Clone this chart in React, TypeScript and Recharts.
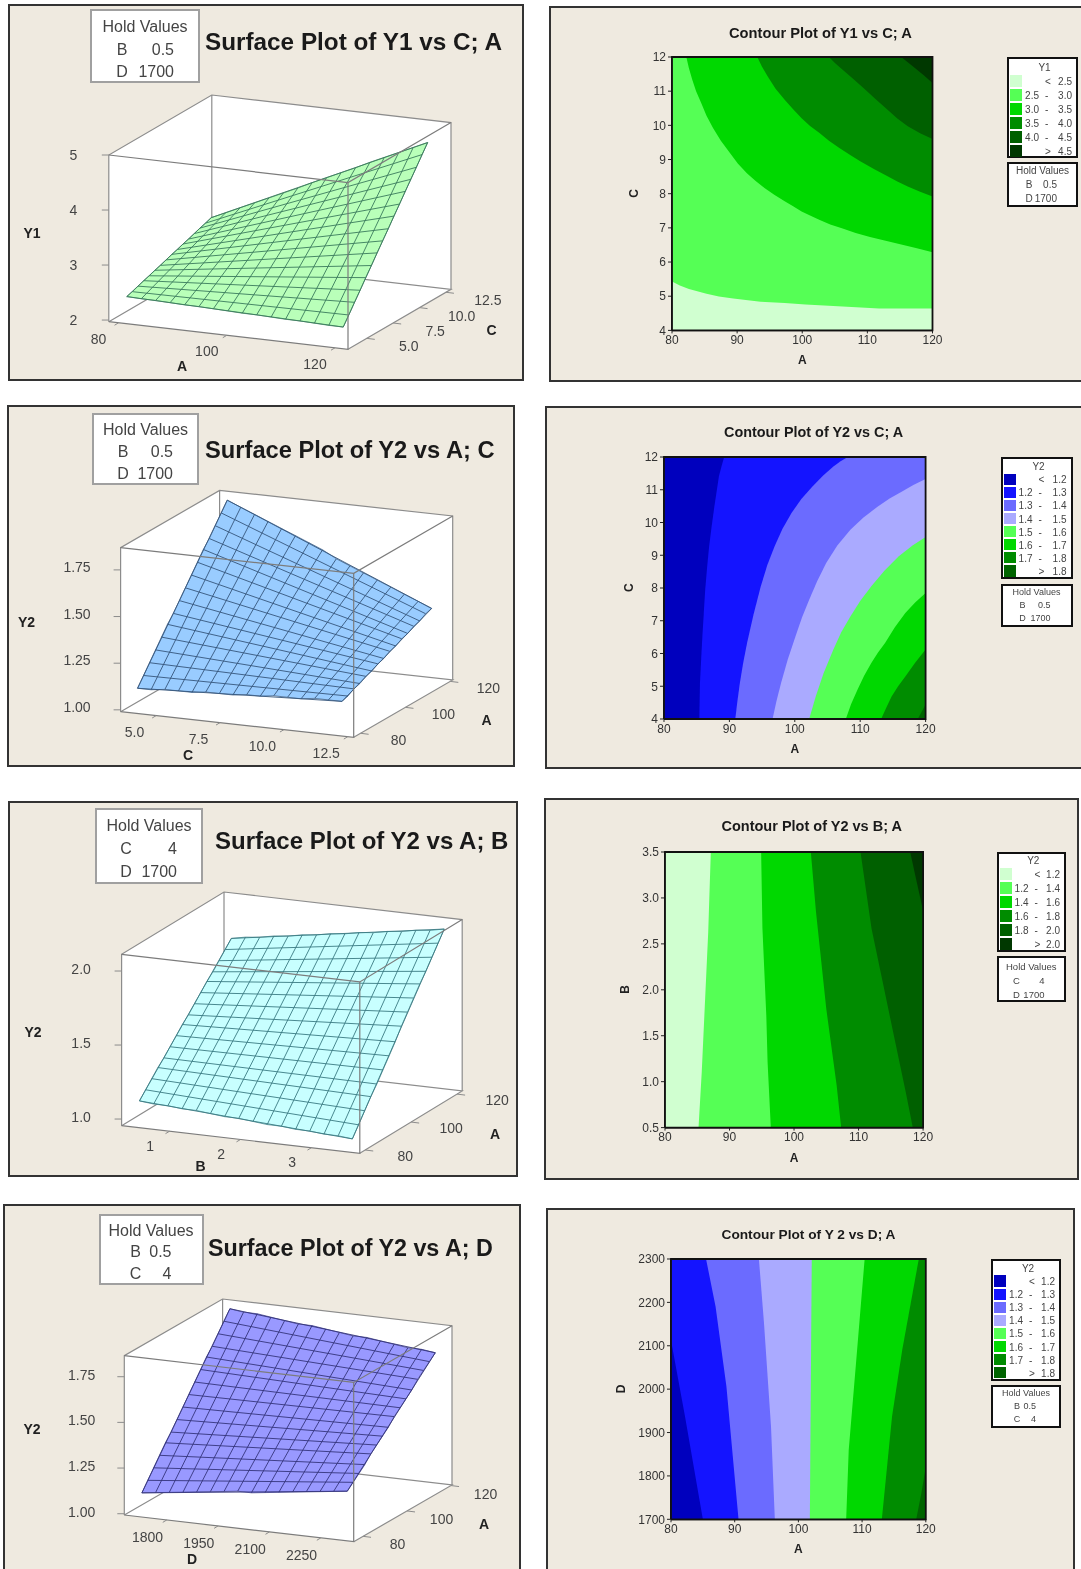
import React from 'react'
import { Scatter, ScatterChart, XAxis, YAxis } from 'recharts'

// grid steps along the surface plots
const stepsA = [80, 82.67, 85.33, 88, 90.67, 93.33, 96, 98.67, 101.33, 104, 106.67, 109.33, 112, 114.67, 117.33, 120]
const stepsC = [4, 4.53, 5.07, 5.6, 6.13, 6.67, 7.2, 7.73, 8.27, 8.8, 9.33, 9.87, 10.4, 10.93, 11.47, 12]
const stepsB = [0.5, 0.7, 0.9, 1.1, 1.3, 1.5, 1.7, 1.9, 2.1, 2.3, 2.5, 2.7, 2.9, 3.1, 3.3, 3.5]
const stepsD = [1700, 1740, 1780, 1820, 1860, 1900, 1940, 1980, 2020, 2060, 2100, 2140, 2180, 2220, 2260, 2300]

// surface edge heights: front and back run along the front axis, left and right along the depth axis
const y1Front = [2.36, 2.35, 2.35, 2.34, 2.33, 2.33, 2.32, 2.31, 2.30, 2.30, 2.29, 2.28, 2.28, 2.27, 2.26, 2.26]
const y1Back = [2.90, 3.02, 3.14, 3.26, 3.38, 3.50, 3.62, 3.75, 3.87, 3.99, 4.11, 4.24, 4.36, 4.48, 4.60, 4.72]
const y1Left = [2.36, 2.39, 2.43, 2.47, 2.50, 2.54, 2.57, 2.61, 2.65, 2.68, 2.72, 2.75, 2.79, 2.83, 2.86, 2.90]
const y1Right = [2.26, 2.42, 2.59, 2.75, 2.92, 3.08, 3.25, 3.41, 3.57, 3.74, 3.90, 4.07, 4.23, 4.39, 4.56, 4.72]

const y2cFront = [1.10, 1.10, 1.11, 1.11, 1.11, 1.12, 1.12, 1.12, 1.13, 1.13, 1.14, 1.14, 1.14, 1.15, 1.15, 1.15]
const y2cBack = [1.83, 1.80, 1.77, 1.74, 1.71, 1.68, 1.65, 1.62, 1.58, 1.55, 1.52, 1.49, 1.46, 1.43, 1.40, 1.37]
const y2cLeft = [1.10, 1.15, 1.20, 1.25, 1.30, 1.35, 1.39, 1.44, 1.49, 1.54, 1.59, 1.64, 1.68, 1.73, 1.78, 1.83]
const y2cRight = [1.15, 1.16, 1.18, 1.19, 1.21, 1.22, 1.24, 1.25, 1.27, 1.28, 1.30, 1.31, 1.33, 1.34, 1.36, 1.37]

const y2bFront = [1.11, 1.10, 1.10, 1.09, 1.09, 1.08, 1.07, 1.07, 1.06, 1.05, 1.05, 1.04, 1.04, 1.03, 1.03, 1.02]
const y2bBack = [1.83, 1.85, 1.86, 1.88, 1.89, 1.91, 1.92, 1.94, 1.95, 1.97, 1.98, 2.00, 2.01, 2.03, 2.04, 2.06]
const y2bLeft = [1.11, 1.16, 1.21, 1.26, 1.30, 1.35, 1.40, 1.45, 1.49, 1.54, 1.59, 1.64, 1.68, 1.73, 1.78, 1.83]
const y2bRight = [1.02, 1.09, 1.16, 1.23, 1.29, 1.36, 1.43, 1.50, 1.58, 1.65, 1.72, 1.79, 1.85, 1.92, 1.99, 2.06]

const y2dFront = [1.09, 1.10, 1.11, 1.12, 1.13, 1.14, 1.15, 1.16, 1.16, 1.17, 1.18, 1.19, 1.20, 1.21, 1.22, 1.23]
const y2dBack = [1.82, 1.81, 1.81, 1.80, 1.79, 1.78, 1.78, 1.77, 1.76, 1.75, 1.75, 1.74, 1.73, 1.72, 1.72, 1.71]
const y2dLeft = [1.09, 1.14, 1.19, 1.24, 1.29, 1.33, 1.38, 1.43, 1.48, 1.53, 1.58, 1.63, 1.67, 1.72, 1.77, 1.82]
const y2dRight = [1.23, 1.26, 1.29, 1.32, 1.36, 1.39, 1.42, 1.45, 1.49, 1.52, 1.55, 1.58, 1.62, 1.65, 1.68, 1.71]

// contour boundaries as [x, y] pairs
const y1Level25 = [[80, 5.43], [81.2, 5.31], [82.6, 5.21], [85.3, 5.07], [87.2, 4.99], [89.4, 4.93], [93.6, 4.84], [97.3, 4.8], [100.5, 4.76], [106.2, 4.7], [111.8, 4.64], [120, 4.64]]
const y1Level30 = [[82.2, 12], [82.6, 11.67], [83.1, 11.34], [83.7, 11], [84.5, 10.65], [85.3, 10.28], [86.3, 9.92], [87.5, 9.55], [88.9, 9.19], [90.1, 8.88], [91.5, 8.6], [92.8, 8.38], [94.2, 8.17], [95.7, 7.97], [97.3, 7.78], [98.6, 7.63], [99.9, 7.48], [101.2, 7.36], [102.6, 7.24], [104.3, 7.1], [106.2, 6.98], [108.2, 6.85], [110.4, 6.73], [112.8, 6.62], [115.2, 6.51], [117.6, 6.4], [120, 6.29]]
const y1Level35 = [[93.1, 12], [93.8, 11.72], [94.7, 11.43], [95.9, 11.07], [97.3, 10.75], [98.6, 10.47], [99.9, 10.21], [101.2, 9.98], [102.6, 9.78], [104.1, 9.55], [105.7, 9.34], [107.3, 9.14], [108.9, 8.95], [111, 8.72], [113.1, 8.51], [114.6, 8.36], [116.2, 8.21], [118.1, 8.06], [120, 7.92]]
const y1Level40 = [[104.1, 12], [105.1, 11.81], [106.2, 11.63], [107.8, 11.36], [109.4, 11.09], [111.2, 10.78], [113.1, 10.46], [114.6, 10.2], [116.2, 9.97], [118.1, 9.77], [120, 9.6]]
const y1Level45 = [[115.2, 12], [116.2, 11.85], [117.3, 11.68], [118.7, 11.46], [120, 11.24]]

const y2cLevel12 = [[85.4, 4], [85.5, 5.1], [85.7, 5.9], [85.9, 6.63], [86.3, 7.95], [86.6, 8.65], [86.9, 9.27], [87.3, 9.9], [87.7, 10.49], [88.4, 11.41], [88.8, 11.72], [89.2, 12]]
const y2cLevel13 = [[90.9, 4], [91.2, 4.5], [91.6, 5.1], [92.1, 5.7], [92.7, 6.32], [93.7, 7.2], [94.8, 8.05], [95.8, 8.7], [96.9, 9.27], [98.1, 9.8], [99.5, 10.29], [101, 10.72], [102.7, 11.1], [104.3, 11.43], [105.9, 11.71], [107, 11.87], [108.1, 12]]
const y2cLevel14 = [[96.6, 4], [97.2, 4.55], [97.9, 5.1], [98.9, 5.8], [100.1, 6.52], [101.1, 7.1], [102.2, 7.64], [103.4, 8.2], [104.8, 8.76], [106.5, 9.3], [108.5, 9.78], [110.5, 10.15], [112.7, 10.49], [114.5, 10.73], [116.4, 10.95], [118.2, 11.15], [120, 11.33]]
const y2cLevel15 = [[102.2, 4], [103.2, 4.69], [104.4, 5.4], [105.9, 6.12], [107.1, 6.65], [108.5, 7.13], [110, 7.6], [111.7, 8.05], [113.7, 8.53], [115.9, 8.97], [118, 9.3], [120, 9.56]]
const y2cLevel16 = [[107.8, 4], [108.6, 4.45], [109.6, 4.9], [110.6, 5.32], [111.7, 5.71], [112.7, 6.02], [113.8, 6.32], [115.3, 6.8], [116.9, 7.24], [118.4, 7.56], [120, 7.85]]
const y2cLevel17 = [[113.2, 4], [114, 4.35], [114.8, 4.69], [115.8, 5], [116.9, 5.3], [118.4, 5.72], [120, 6.12]]
const y2cLevel18 = [[118.8, 4], [120, 4.44]]

const y2bLevel12 = [[85.2, 0.5], [85.7, 1.11], [86.1, 1.72], [86.7, 2.63], [87.1, 3.5]]
const y2bLevel14 = [[96.4, 0.5], [95.9, 1.21], [95.7, 1.72], [95.1, 2.67], [94.9, 3.5]]
const y2bLevel16 = [[107.3, 0.5], [106.6, 0.96], [105, 1.79], [103.4, 2.85], [102.6, 3.5]]
const y2bLevel18 = [[118.4, 0.5], [117.3, 0.89], [114.7, 1.76], [112, 2.67], [110.3, 3.5]]
const y2bLevel20 = [[120, 2.86], [118.9, 3.21], [118, 3.5]]

const y2dLevel12 = [[80, 2113], [82.2, 1937], [85, 1700]]
const y2dLevel13 = [[85.5, 2300], [87, 2190], [88.7, 2006], [90.6, 1700]]
const y2dLevel14 = [[93.8, 2300], [94.6, 2152], [95.7, 1914], [96.3, 1700]]
const y2dLevel15 = [[102.1, 2300], [102, 2106], [101.8, 1700]]
const y2dLevel16 = [[110.4, 2300], [109, 2052], [107.9, 1860], [107.5, 1700]]
const y2dLevel17 = [[118.9, 2300], [116.3, 2090], [114.7, 1937], [113.1, 1700]]
const y2dLevel18 = [[120, 1821], [119.3, 1760], [118.5, 1700]]

// legend rows: low, high
const y1Legend = [['', '2.5'], ['2.5', '3.0'], ['3.0', '3.5'], ['3.5', '4.0'], ['4.0', '4.5'], ['', '4.5']]
const y2FineLegend = [['', '1.2'], ['1.2', '1.3'], ['1.3', '1.4'], ['1.4', '1.5'], ['1.5', '1.6'], ['1.6', '1.7'], ['1.7', '1.8'], ['', '1.8']]
const y2CoarseLegend = [['', '1.2'], ['1.2', '1.4'], ['1.4', '1.6'], ['1.6', '1.8'], ['1.8', '2.0'], ['', '2.0']]

const greens6 = ['#D0FFD0', '#55FF55', '#00D800', '#008C00', '#006000', '#003800']
const bluesGreens8 = ['#0000BE', '#1414FF', '#6B6BFF', '#AAAAFF', '#55FF55', '#00D800', '#008C00', '#006400']

const PANEL_BG = '#EFEAE0'
const FONT = '"Liberation Sans", Arial, sans-serif'

const NoMark = () => null

const textMark = (size: number, weight: string, fill: string) => (props: any) => (
  <text x={props.cx} y={props.cy} fontSize={size} fontWeight={weight} fill={fill} fontFamily={FONT} textAnchor="middle" dominantBaseline="central">
    {props.payload.label}
  </text>
)

const tickLabelMark = textMark(14, 'normal', '#444')
const axisTitleMark = textMark(14, 'bold', '#222')

function Frame({ left, top, right, bottom }: any) {
  return <div style={{ position: 'absolute', left, top, width: right - left, height: bottom - top, boxSizing: 'border-box', border: '2px solid #333', background: PANEL_BG }} />
}

function Title({ x, y, size, text }: any) {
  return <div style={{ position: 'absolute', left: x, top: y, transform: 'translateY(-50%)', fontFamily: FONT, fontSize: size, fontWeight: 'bold', color: '#1a1a1a', whiteSpace: 'nowrap' }}>{text}</div>
}

function HoldBox({ left, top, width, height, size, border, titleY, rows, letterX, valueX }: any) {
  const spot = (y: number) => ({ position: 'absolute' as const, top: y, transform: 'translateY(-50%)', whiteSpace: 'nowrap' as const })
  return (
    <div style={{ position: 'absolute', left, top, width, height, boxSizing: 'border-box', border, background: '#fff', fontFamily: FONT, fontSize: size, color: '#444' }}>
      <div style={{ ...spot(titleY), left: 0, width: '100%', textAlign: 'center' }}>Hold Values</div>
      {rows.map((r: any) => (
        <React.Fragment key={r[0]}>
          <div style={{ ...spot(r[2]), left: letterX, transform: 'translate(-50%,-50%)' }}>{r[0]}</div>
          <div style={{ ...spot(r[2]), right: width - valueX }}>{r[1]}</div>
        </React.Fragment>
      ))}
    </div>
  )
}

function LegendBox({ left, top, width, height, title, titleY, firstY, rowGap, rows, colors }: any) {
  const spot = (y: number) => ({ position: 'absolute' as const, top: y, transform: 'translateY(-50%)', whiteSpace: 'nowrap' as const })
  return (
    <div style={{ position: 'absolute', left, top, width, height, boxSizing: 'border-box', border: '2px solid #111', background: '#fff', fontFamily: FONT, fontSize: 10, color: '#444' }}>
      <div style={{ ...spot(titleY), left: 8, width: width - 16, textAlign: 'center' }}>{title}</div>
      {rows.map((r: string[], i: number) => (
        <React.Fragment key={i}>
          <div style={{ position: 'absolute', left: 1, top: firstY + i * rowGap - rowGap / 2 + 1, width: 12, height: rowGap - 2, background: colors[i] }} />
          {r[0] ? <div style={{ ...spot(firstY + i * rowGap), right: width - 34 }}>{r[0]}</div> : null}
          <div style={{ ...spot(firstY + i * rowGap), left: 36 }}>{r[0] ? '-' : i === 0 ? '<' : '>'}</div>
          <div style={{ ...spot(firstY + i * rowGap), right: 4 }}>{r[1]}</div>
        </React.Fragment>
      ))}
    </div>
  )
}

// one straight or filled polyline through the chart's scales
const Path = ({ data, stroke = 'none', fill = 'none', width = 1 }: any) => (
  <Scatter data={data} line={{ stroke, fill, strokeWidth: width }} shape={NoMark} isAnimationActive={false} legendType="none" />
)

function SurfacePlot({ frame, box, front, depth, height, edges, fill, mesh, titles, frontOffset, depthOffset, yOffset }: any) {
  const scale = (v: number, d: number[]) => (v - d[0]) / (d[1] - d[0])
  const project = (f: number, g: number, h: number) => {
    const u = scale(f, front.domain)
    const v = scale(g, depth.domain)
    const w = scale(h, height.domain)
    return {
      x: box.x + u * box.eU[0] + v * box.eV[0],
      y: box.y + u * box.eU[1] + v * box.eV[1] - w * box.h,
    }
  }
  const corner = (u: number, v: number, w: number) => ({
    x: box.x + u * box.eU[0] + v * box.eV[0],
    y: box.y + u * box.eU[1] + v * box.eV[1] - w * box.h,
  })

  const fs = front.steps
  const ds = depth.steps
  const fLo = fs[0]
  const fHi = fs[fs.length - 1]
  const dLo = ds[0]
  const dHi = ds[ds.length - 1]

  const outline = [
    ...fs.map((f: number, i: number) => project(f, dLo, edges.front[i])),
    ...ds.map((d: number, i: number) => project(fHi, d, edges.right[i])),
    ...[...fs].reverse().map((f: number, i: number) => project(f, dHi, edges.back[fs.length - 1 - i])),
    ...[...ds].reverse().map((d: number, i: number) => project(fLo, d, edges.left[ds.length - 1 - i])),
  ]
  const alongDepth = fs.map((f: number, i: number) => [project(f, dLo, edges.front[i]), project(f, dHi, edges.back[i])])
  const alongFront = ds.map((d: number, i: number) => [project(fLo, d, edges.left[i]), project(fHi, d, edges.right[i])])

  const hull = [corner(0, 0, 0), corner(1, 0, 0), corner(1, 1, 0), corner(1, 1, 1), corner(0, 1, 1), corner(0, 0, 1), corner(0, 0, 0)]
  const backLines = [
    [corner(0, 0, 0), corner(0, 0, 1), corner(0, 1, 1), corner(1, 1, 1), corner(1, 1, 0)],
    [corner(0, 1, 0), corner(0, 1, 1)],
    [corner(0, 0, 0), corner(0, 1, 0), corner(1, 1, 0), corner(1, 0, 0)],
  ]
  const frontLines = [
    [corner(0, 0, 1), corner(1, 0, 1), corner(1, 1, 1)],
    [corner(0, 0, 0), corner(1, 0, 0), corner(1, 0, 1)],
  ]

  const frontTicks = front.ticks.map((t: number) => {
    const base = corner(scale(t, front.domain), 0, 0)
    return { seg: [{ x: base.x - 4, y: base.y + 2.4 }, base], label: { x: base.x + frontOffset[0], y: base.y + frontOffset[1], label: front.format(t) } }
  })
  const depthTicks = depth.ticks.map((t: number) => {
    const base = corner(1, scale(t, depth.domain), 0)
    return { seg: [base, { x: base.x + 8, y: base.y + 1 }], label: { x: base.x + depthOffset[0], y: base.y + depthOffset[1], label: depth.format(t) } }
  })
  const heightTicks = height.ticks.map((t: number) => {
    const base = corner(0, 0, scale(t, height.domain))
    return { seg: [{ x: base.x - 7, y: base.y }, base], label: { x: base.x + yOffset[0], y: base.y + yOffset[1], label: height.format(t) } }
  })
  const allTicks = [...frontTicks, ...depthTicks, ...heightTicks]

  return (
    <div style={{ position: 'absolute', left: frame.left, top: frame.top }}>
      <ScatterChart width={frame.right - frame.left} height={frame.bottom - frame.top} margin={{ top: 0, right: 0, bottom: 0, left: 0 }}>
        <XAxis type="number" dataKey="x" domain={[frame.left, frame.right]} hide allowDataOverflow />
        <YAxis type="number" dataKey="y" domain={[frame.top, frame.bottom]} reversed hide allowDataOverflow width={0} />
        {Path({ data: hull, fill: '#fff' })}
        {backLines.map((l) => Path({ data: l, stroke: '#8c8c8c', width: 1.2 }))}
        {Path({ data: outline, fill, stroke: mesh, width: 0.7 })}
        {alongDepth.map((l: any) => Path({ data: l, stroke: mesh, width: 0.9 }))}
        {alongFront.map((l: any) => Path({ data: l, stroke: mesh, width: 0.9 }))}
        {frontLines.map((l) => Path({ data: l, stroke: '#7c7c7c', width: 1.2 }))}
        {allTicks.map((t: any) => Path({ data: t.seg, stroke: '#8c8c8c', width: 1 }))}
        <Scatter data={allTicks.map((t: any) => t.label)} shape={tickLabelMark} isAnimationActive={false} legendType="none" />
        <Scatter data={titles} shape={axisTitleMark} isAnimationActive={false} legendType="none" />
      </ScatterChart>
    </div>
  )
}

function ContourPlot({ plot, xDomain, yDomain, xTicks, yTicks, yFormat, xLabel, yLabel, yTitleGap, base, levels }: any) {
  const [x0, x1] = xDomain
  const [y0, y1] = yDomain
  const pts = (pairs: number[][]) => pairs.map((p) => ({ x: p[0], y: p[1] }))
  const rect = [[x0, y0], [x1, y0], [x1, y1], [x0, y1], [x0, y0]]
  const axisW = 64
  const axisH = 42
  return (
    <div style={{ position: 'absolute', left: plot.left - axisW, top: plot.top - 10 }}>
      <ScatterChart width={plot.width + axisW + 15} height={plot.height + 10 + axisH} margin={{ top: 10, right: 15, bottom: 0, left: 0 }}>
        <XAxis
          type="number"
          dataKey="x"
          domain={xDomain}
          ticks={xTicks}
          interval={0}
          height={axisH}
          tickSize={3}
          tick={{ fontSize: 12, fill: '#333', fontFamily: FONT }}
          axisLine={{ stroke: '#111', strokeWidth: 1.8 }}
          tickLine={{ stroke: '#222' }}
          label={{ value: xLabel, position: 'insideBottom', offset: 8, fontSize: 12, fontWeight: 'bold', fill: '#222', fontFamily: FONT }}
        />
        <YAxis
          type="number"
          dataKey="y"
          domain={yDomain}
          ticks={yTicks}
          interval={0}
          width={axisW}
          tickSize={4}
          tickFormatter={yFormat}
          tick={{ fontSize: 12, fill: '#333', fontFamily: FONT }}
          axisLine={{ stroke: '#111', strokeWidth: 1.8 }}
          tickLine={{ stroke: '#222' }}
          label={{ value: yLabel, angle: -90, position: 'insideLeft', offset: axisW - yTitleGap, dy: 4, fontSize: 12, fontWeight: 'bold', fill: '#222', fontFamily: FONT }}
        />
        {Path({ data: pts(rect), fill: base })}
        {levels.map((l: any) => Path({ data: pts([...l.curve, ...l.close]), fill: l.color }))}
        {Path({ data: pts(rect), stroke: '#111', width: 1.8 })}
      </ScatterChart>
    </div>
  )
}

const fixed1 = (v: number) => v.toFixed(1)
const fixed2 = (v: number) => v.toFixed(2)
const plain = (v: number) => String(v)

const levelsOf = (curves: number[][][], closes: number[][][], colors: string[]) =>
  curves.map((curve, i) => ({ curve, close: closes[i], color: colors[i + 1] }))

export default function App() {
  return (
    <div style={{ position: 'absolute', left: 0, top: 0, width: 1081, height: 1569, overflow: 'hidden', background: '#fff', filter: 'blur(0.45px)' }}>
      <Frame left={8} top={4} right={524} bottom={381} />
      <Frame left={549} top={6} right={1090} bottom={382} />
      <Frame left={7} top={405} right={515} bottom={767} />
      <Frame left={545} top={406} right={1090} bottom={769} />
      <Frame left={8} top={801} right={518} bottom={1177} />
      <Frame left={544} top={798} right={1079} bottom={1180} />
      <Frame left={3} top={1204} right={521} bottom={1590} />
      <Frame left={546} top={1208} right={1075} bottom={1590} />

      <SurfacePlot
        frame={{ left: 8, top: 4, right: 524, bottom: 381 }}
        box={{ x: 108.8, y: 321.7, eU: [239.2, 27.6], eV: [103, -60], h: 166.7 }}
        front={{ steps: stepsA, domain: [78.2, 122.4], ticks: [80, 100, 120], format: plain }}
        depth={{ steps: stepsC, domain: [3.22, 12.98], ticks: [5, 7.5, 10, 12.5], format: fixed1 }}
        height={{ domain: [1.97, 5], ticks: [2, 3, 4, 5], format: plain }}
        edges={{ front: y1Front, back: y1Back, left: y1Left, right: y1Right }}
        fill="#B9FFB9"
        mesh="#3A7A5C"
        frontOffset={[-20, 16]}
        depthOffset={[42, 8]}
        yOffset={[-35.5, 0]}
        titles={[{ x: 182, y: 365.5, label: 'A' }, { x: 491.5, y: 330, label: 'C' }, { x: 32, y: 232.5, label: 'Y1' }]}
      />
      <HoldBox left={90} top={9} width={110} height={74} size={16} border="2px solid #a0a0a0" titleY={16} letterX={30} valueX={86} rows={[['B', '0.5', 39], ['D', '1700', 61]]} />
      <Title x={205} y={41.5} size={24.3} text="Surface Plot of Y1 vs C; A" />

      <SurfacePlot
        frame={{ left: 7, top: 405, right: 515, bottom: 767 }}
        box={{ x: 120.6, y: 711.7, eU: [233.1, 25.6], eV: [99, -57.3], h: 164 }}
        front={{ steps: stepsC, domain: [3.608, 12.73], ticks: [5, 7.5, 10, 12.5], format: fixed1 }}
        depth={{ steps: stepsA, domain: [76.91, 121.06], ticks: [80, 100, 120], format: plain }}
        height={{ domain: [0.99, 1.869], ticks: [1, 1.25, 1.5, 1.75], format: fixed2 }}
        edges={{ front: y2cFront, back: y2cBack, left: y2cLeft, right: y2cRight }}
        fill="#99CCFF"
        mesh="#35567C"
        frontOffset={[-21.6, 16]}
        depthOffset={[38, 6.7]}
        yOffset={[-43.6, -3]}
        titles={[{ x: 188, y: 755, label: 'C' }, { x: 486.5, y: 719.5, label: 'A' }, { x: 26.5, y: 622, label: 'Y2' }]}
      />
      <HoldBox left={92} top={413} width={107} height={72} size={16} border="2px solid #a0a0a0" titleY={15} letterX={29} valueX={83} rows={[['B', '0.5', 37], ['D', '1700', 59]]} />
      <Title x={205} y={449.5} size={23.7} text="Surface Plot of Y2 vs A; C" />

      <SurfacePlot
        frame={{ left: 8, top: 801, right: 518, bottom: 1177 }}
        box={{ x: 121.6, y: 1125.7, eU: [238.2, 27.6], eV: [102.4, -62.3], h: 171.4 }}
        front={{ steps: stepsB, domain: [0.325, 3.681], ticks: [1, 2, 3], format: plain }}
        depth={{ steps: stepsA, domain: [77.64, 122.22], ticks: [80, 100, 120], format: plain }}
        height={{ domain: [0.955, 2.113], ticks: [1, 1.5, 2], format: fixed1 }}
        edges={{ front: y2bFront, back: y2bBack, left: y2bLeft, right: y2bRight }}
        fill="#C8FFFF"
        mesh="#3A7A82"
        frontOffset={[-19.3, 14.4]}
        depthOffset={[40, 6]}
        yOffset={[-40.5, -2]}
        titles={[{ x: 200.5, y: 1165.5, label: 'B' }, { x: 495, y: 1134, label: 'A' }, { x: 33, y: 1032, label: 'Y2' }]}
      />
      <HoldBox left={95} top={808} width={108} height={76} size={16} border="2px solid #a0a0a0" titleY={16} letterX={29} valueX={84} rows={[['C', '4', 39], ['D', '1700', 62]]} />
      <Title x={215} y={841} size={24} text="Surface Plot of Y2 vs A; B" />

      <SurfacePlot
        frame={{ left: 3, top: 1204, right: 521, bottom: 1590 }}
        box={{ x: 124.3, y: 1515, eU: [229.4, 26.7], eV: [98.3, -56.7], h: 159.3 }}
        front={{ steps: stepsD, domain: [1675.9, 2346], ticks: [1800, 1950, 2100, 2250], format: plain }}
        depth={{ steps: stepsA, domain: [75.76, 120.44], ticks: [80, 100, 120], format: plain }}
        height={{ domain: [0.993, 1.865], ticks: [1, 1.25, 1.5, 1.75], format: fixed2 }}
        edges={{ front: y2dFront, back: y2dBack, left: y2dLeft, right: y2dRight }}
        fill="#9999FF"
        mesh="#34347C"
        frontOffset={[-19.3, 17.4]}
        depthOffset={[34.5, 8]}
        yOffset={[-42.6, -2]}
        titles={[{ x: 192, y: 1559, label: 'D' }, { x: 484, y: 1523.5, label: 'A' }, { x: 32, y: 1428.5, label: 'Y2' }]}
      />
      <HoldBox left={98.5} top={1214} width={105} height={71} size={16} border="2px solid #a0a0a0" titleY={15} letterX={35} valueX={75} rows={[['B', '0.5', 36], ['C', '4', 58]]} />
      <Title x={208} y={1247.5} size={23.3} text="Surface Plot of Y2 vs A; D" />

      <ContourPlot
        plot={{ left: 671.5, top: 57.3, width: 260.5, height: 273.4 }}
        xDomain={[80, 120]}
        yDomain={[4, 12]}
        xTicks={[80, 90, 100, 110, 120]}
        yTicks={[4, 5, 6, 7, 8, 9, 10, 11, 12]}
        yFormat={plain}
        xLabel="A"
        yLabel="C"
        yTitleGap={38}
        base={greens6[0]}
        levels={levelsOf(
          [y1Level25, y1Level30, y1Level35, y1Level40, y1Level45],
          [[[120, 12], [80, 12]], [[120, 12]], [[120, 12]], [[120, 12]], [[120, 12]]],
          greens6,
        )}
      />
      <Title x={729} y={32.7} size={14.7} text="Contour Plot of Y1 vs C; A" />
      <LegendBox left={1007} top={57} width={71} height={101} title="Y1" titleY={8} firstY={22} rowGap={14} rows={y1Legend} colors={greens6} />
      <HoldBox left={1007} top={161.5} width={71} height={45.5} size={10} border="2px solid #111" titleY={6} letterX={20} valueX={52} rows={[['B', '0.5', 20], ['D', '1700', 34]]} />

      <ContourPlot
        plot={{ left: 664.2, top: 457.3, width: 261.6, height: 262 }}
        xDomain={[80, 120]}
        yDomain={[4, 12]}
        xTicks={[80, 90, 100, 110, 120]}
        yTicks={[4, 5, 6, 7, 8, 9, 10, 11, 12]}
        yFormat={plain}
        xLabel="A"
        yLabel="C"
        yTitleGap={35}
        base={bluesGreens8[0]}
        levels={levelsOf(
          [y2cLevel12, y2cLevel13, y2cLevel14, y2cLevel15, y2cLevel16, y2cLevel17, y2cLevel18],
          [[[120, 12], [120, 4]], [[120, 12], [120, 4]], [[120, 4]], [[120, 4]], [[120, 4]], [[120, 4]], [[120, 4]]],
          bluesGreens8,
        )}
      />
      <Title x={724} y={432.3} size={14.4} text="Contour Plot of Y2 vs C; A" />
      <LegendBox left={1000.5} top={457.3} width={72} height={122} title="Y2" titleY={7} firstY={20} rowGap={13.1} rows={y2FineLegend} colors={bluesGreens8} />
      <HoldBox left={1000.5} top={584} width={72} height={43} size={9} border="2px solid #111" titleY={6} letterX={20} valueX={52} rows={[['B', '0.5', 19], ['D', '1700', 32]]} />

      <ContourPlot
        plot={{ left: 664.9, top: 851.7, width: 258.1, height: 275.6 }}
        xDomain={[80, 120]}
        yDomain={[0.5, 3.5]}
        xTicks={[80, 90, 100, 110, 120]}
        yTicks={[0.5, 1, 1.5, 2, 2.5, 3, 3.5]}
        yFormat={fixed1}
        xLabel="A"
        yLabel="B"
        yTitleGap={40}
        base={greens6[0]}
        levels={levelsOf(
          [y2bLevel12, y2bLevel14, y2bLevel16, y2bLevel18, y2bLevel20],
          [[[120, 3.5], [120, 0.5]], [[120, 3.5], [120, 0.5]], [[120, 3.5], [120, 0.5]], [[120, 3.5], [120, 0.5]], [[120, 3.5]]],
          greens6,
        )}
      />
      <Title x={721.5} y={825.7} size={14.5} text="Contour Plot of Y2 vs B; A" />
      <LegendBox left={996.5} top={851.7} width={69.5} height={100.6} title="Y2" titleY={6.3} firstY={20} rowGap={14} rows={y2CoarseLegend} colors={greens6} />
      <HoldBox left={996.5} top={956} width={69.5} height={46.3} size={9.5} border="2px solid #111" titleY={8} letterX={18} valueX={50} rows={[['C', '4', 22], ['D', '1700', 36]]} />

      <ContourPlot
        plot={{ left: 671, top: 1259, width: 254.8, height: 260.3 }}
        xDomain={[80, 120]}
        yDomain={[1700, 2300]}
        xTicks={[80, 90, 100, 110, 120]}
        yTicks={[1700, 1800, 1900, 2000, 2100, 2200, 2300]}
        yFormat={plain}
        xLabel="A"
        yLabel="D"
        yTitleGap={50.5}
        base={bluesGreens8[0]}
        levels={levelsOf(
          [y2dLevel12, y2dLevel13, y2dLevel14, y2dLevel15, y2dLevel16, y2dLevel17, y2dLevel18],
          [
            [[120, 1700], [120, 2300], [80, 2300]],
            [[120, 1700], [120, 2300]],
            [[120, 1700], [120, 2300]],
            [[120, 1700], [120, 2300]],
            [[120, 1700], [120, 2300]],
            [[120, 1700], [120, 2300]],
            [[120, 1700]],
          ],
          bluesGreens8,
        )}
      />
      <Title x={721.5} y={1234.3} size={13.7} text="Contour Plot of Y 2 vs D; A" />
      <LegendBox left={991} top={1259} width={70} height={122} title="Y2" titleY={7} firstY={20} rowGap={13.1} rows={y2FineLegend} colors={bluesGreens8} />
      <HoldBox left={991} top={1385} width={70} height={43} size={9} border="2px solid #111" titleY={6} letterX={24} valueX={47} rows={[['B', '0.5', 19], ['C', '4', 32]]} />
    </div>
  )
}
